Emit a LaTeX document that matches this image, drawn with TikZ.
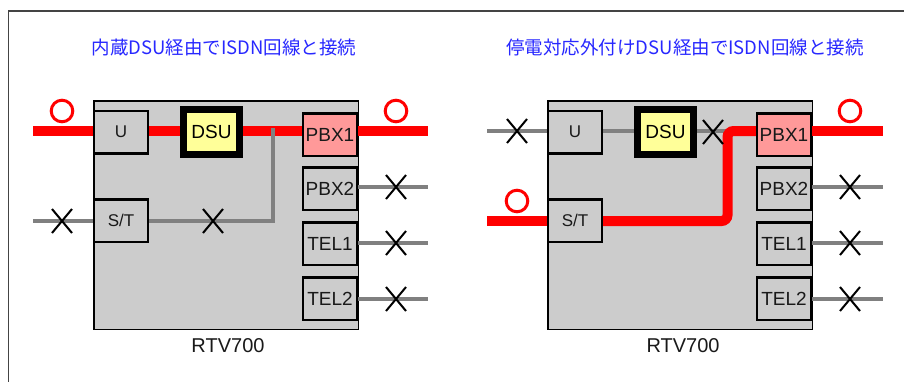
\documentclass[tikz,border=0pt]{standalone}
\usepackage{fontspec}
\setmainfont{Liberation Sans}
\newfontfamily\jpfont{Noto Sans CJK JP}
\pgfdeclarelayer{bglayer}
\pgfdeclarelayer{devlayer}
\pgfdeclarelayer{linelayer}
\pgfsetlayers{bglayer,devlayer,linelayer,main}
\definecolor{devgray}{HTML}{CCCCCC}
\definecolor{pbxred}{HTML}{FF9999}
\definecolor{dsuyel}{HTML}{FFFF99}
\definecolor{wiregray}{HTML}{808080}
\definecolor{titleblue}{HTML}{2828FF}
\definecolor{framegray}{HTML}{444444}
\tikzset{
  device/.style={draw=black, line width=1.5pt, fill=devgray, minimum width=264.5pt, minimum height=228.5pt, inner sep=0pt, outer sep=0pt},
  port/.style={draw=black, line width=2.5pt, fill=devgray, minimum width=54pt, minimum height=42.5pt, inner sep=0pt, outer sep=0pt, font=\fontsize{19}{19}\selectfont, text=black!90},
  smallport/.style={port, font=\fontsize{17}{17}\selectfont},
  pbxon/.style={port, fill=pbxred},
  dsubox/.style={draw=black, line width=7pt, fill=dsuyel, minimum width=56pt, minimum height=45pt, inner sep=0pt, outer sep=0pt, font=\fontsize{19}{19}\selectfont},
  redwire/.style={draw=red, line width=10pt},
  graywire/.style={draw=wiregray, line width=4.5pt},
  okmark/.style={draw=red, line width=3pt},
  title/.style={font=\jpfont\fontsize{18.5}{18.5}\selectfont, text=titleblue},
  devlabel/.style={font=\fontsize{20}{20}\selectfont, text=black!90},
  xmark/.pic={\draw[line width=2pt, black] (-10,-12) -- (10,12) (-10,12) -- (10,-12);}
}
\begin{document}
\begin{tikzpicture}[x=1pt,y=-1pt]
\useasboundingbox (0,0) rectangle (904,381);
\begin{pgfonlayer}{bglayer}
\fill[white] (0,0) rectangle (904,381);
\begin{scope}
\clip (0,0) rectangle (904,381);
\draw[framegray, line width=1.5pt] (8.5,11) rectangle (960,450);
\end{scope}
\end{pgfonlayer}

% ---------- left panel ----------
\node[title] (ta) at (224,47) {内蔵DSU経由でISDN回線と接続};
\begin{pgfonlayer}{devlayer}
\node[device] (adev) at (226,215) {};
\end{pgfonlayer}
\node[devlabel] (alab) at (228,346) {RTV700};
\node[smallport] (aU) at (121,132) {U};
\node[dsubox] (aDSU) at (211.5,132) {DSU};
\node[pbxon] (aP1) at (330,134.5) {PBX1};
\node[port] (aP2) at (330,188.5) {PBX2};
\node[port] (aT1) at (330,243.5) {TEL1};
\node[port] (aT2) at (330,298.5) {TEL2};
\node[smallport] (aST) at (121,220.5) {S/T};
\coordinate (aLin) at (33,131);
\coordinate (aRout) at (428,131);
\coordinate (aSin) at (33,221);
\coordinate (aJ) at (273,221);
\coordinate (aJtop) at (273,128);
\coordinate (aO2) at (428,187);
\coordinate (aO3) at (428,243);
\coordinate (aO4) at (428,299);
\begin{pgfonlayer}{linelayer}
\draw[redwire] (aLin) -- (aU.west |- aLin);
\draw[redwire] (aU.east |- aLin) -- (aDSU.west |- aLin);
\draw[redwire] (aDSU.east |- aLin) -- (aP1.west |- aLin);
\draw[redwire] (aP1.east |- aRout) -- (aRout);
\draw[graywire] (aSin) -- (aST.west |- aSin);
\draw[graywire] (aST.east |- aJ) -- (aJ) -- (aJtop);
\draw[graywire] (aP2.east |- aO2) -- (aO2);
\draw[graywire] (aT1.east |- aO3) -- (aO3);
\draw[graywire] (aT2.east |- aO4) -- (aO4);
\end{pgfonlayer}
\draw[okmark] (62,111) circle[radius=10.8pt];
\draw[okmark] (396,111) circle[radius=10.8pt];
\pic at (62,221) {xmark};
\pic at (213,221) {xmark};
\pic at (396,187) {xmark};
\pic at (396,243) {xmark};
\pic at (396,299) {xmark};

% ---------- right panel ----------
\node[title] (tb) at (685,47) {停電対応外付けDSU経由でISDN回線と接続};
\begin{pgfonlayer}{devlayer}
\node[device] (bdev) at (680,215) {};
\end{pgfonlayer}
\node[devlabel] (blab) at (683,346) {RTV700};
\node[smallport] (bU) at (575,132) {U};
\node[dsubox] (bDSU) at (665.5,132) {DSU};
\node[pbxon] (bP1) at (784,134.5) {PBX1};
\node[port] (bP2) at (784,188.5) {PBX2};
\node[port] (bT1) at (784,243.5) {TEL1};
\node[port] (bT2) at (784,298.5) {TEL2};
\node[smallport] (bST) at (575,220.5) {S/T};
\coordinate (bLin) at (487,131);
\coordinate (bRout) at (883,131);
\coordinate (bSin) at (487,221);
\coordinate (bJ) at (727.5,221);
\coordinate (bJtop) at (727.5,131);
\coordinate (bGend) at (727,131);
\coordinate (bO2) at (883,187);
\coordinate (bO3) at (883,243);
\coordinate (bO4) at (883,299);
\begin{pgfonlayer}{linelayer}
\draw[graywire] (bLin) -- (bU.west |- bLin);
\draw[graywire] (bU.east |- bLin) -- (bDSU.west |- bLin);
\draw[graywire] (bDSU.east |- bLin) -- (bGend);
\draw[redwire] (bSin) -- (bST.west |- bSin);
\draw[redwire, rounded corners=6pt] (bST.east |- bJ) -- (bJ) -- (bJtop) -- (bP1.west |- bJtop);
\draw[redwire] (bP1.east |- bRout) -- (bRout);
\draw[graywire] (bP2.east |- bO2) -- (bO2);
\draw[graywire] (bT1.east |- bO3) -- (bO3);
\draw[graywire] (bT2.east |- bO4) -- (bO4);
\end{pgfonlayer}
\draw[okmark] (517,201) circle[radius=10.8pt];
\draw[okmark] (850,111) circle[radius=10.8pt];
\pic at (517,131) {xmark};
\pic at (713,132) {xmark};
\pic at (850,187) {xmark};
\pic at (850,243) {xmark};
\pic at (850,299) {xmark};
\end{tikzpicture}
\end{document}
